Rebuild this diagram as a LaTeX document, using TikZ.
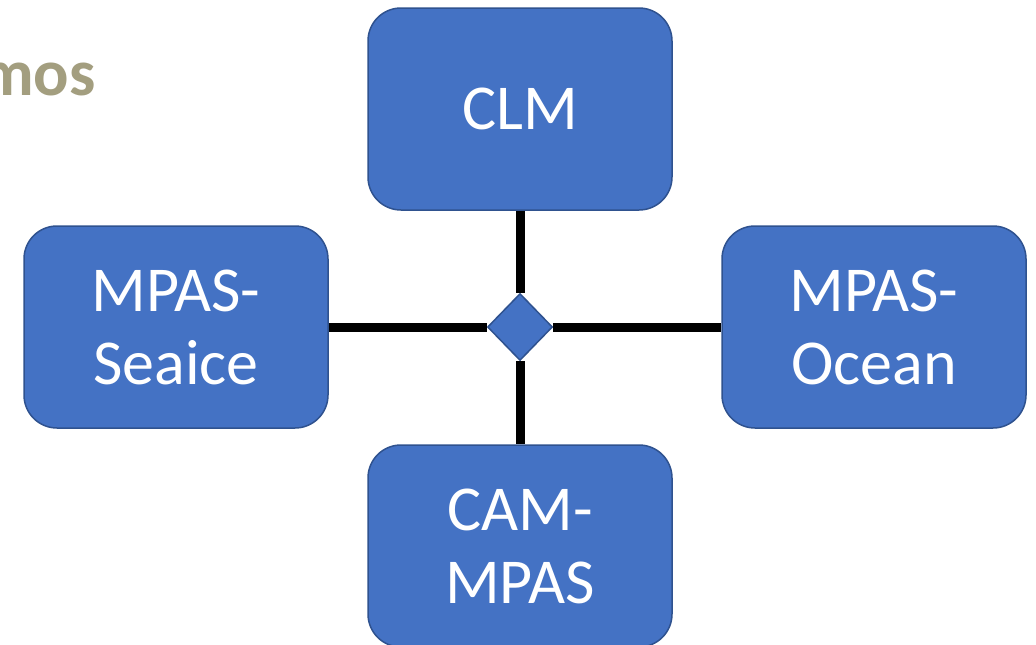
\documentclass[tikz,border=0pt]{standalone}
\usepackage{fontspec}
\setmainfont{Carlito}
\usetikzlibrary{shapes.geometric}
\definecolor{boxblue}{HTML}{4472C4}
\definecolor{boxedge}{HTML}{2F528F}
\definecolor{titlekhaki}{HTML}{A39E7F}
\tikzset{
  modbox/.style={draw=boxedge, line width=1.5pt, fill=boxblue, rounded corners=33pt,
    minimum width=304pt, minimum height=202pt, inner sep=0pt, text=white,
    align=center, font=\fontsize{64}{73}\selectfont},
  hub/.style={diamond, draw=boxedge, line width=1.5pt, fill=boxblue, inner sep=0pt,
    minimum width=65pt, minimum height=67pt},
  link/.style={line width=9pt, draw=black}
}
\begin{document}
\begin{tikzpicture}[x=1pt,y=-1pt]
\useasboundingbox (0,0) rectangle (1036,645);
\clip (0,0) rectangle (1036,645);
\fill[white] (0,0) rectangle (1036,645);
\node[anchor=base east, text=titlekhaki, font=\bfseries\fontsize{66}{70}\selectfont, inner sep=0pt] (title) at (96,95) {mos};
\node[modbox] (clm) at (520,109) {CLM};
\node[modbox] (sea) at (176,327) {MPAS-\\Seaice};
\node[modbox] (ocn) at (874,327) {MPAS-\\Ocean};
\node[modbox] (cam) at (520,546) {CAM-\\MPAS};
\node[hub] (hub) at (520,327) {};
\draw[link] (clm.south) -- (hub.north);
\draw[link] (hub.south) -- (cam.north);
\draw[link] (sea.east) -- (hub.west);
\draw[link] (hub.east) -- (ocn.west);
\end{tikzpicture}
\end{document}
